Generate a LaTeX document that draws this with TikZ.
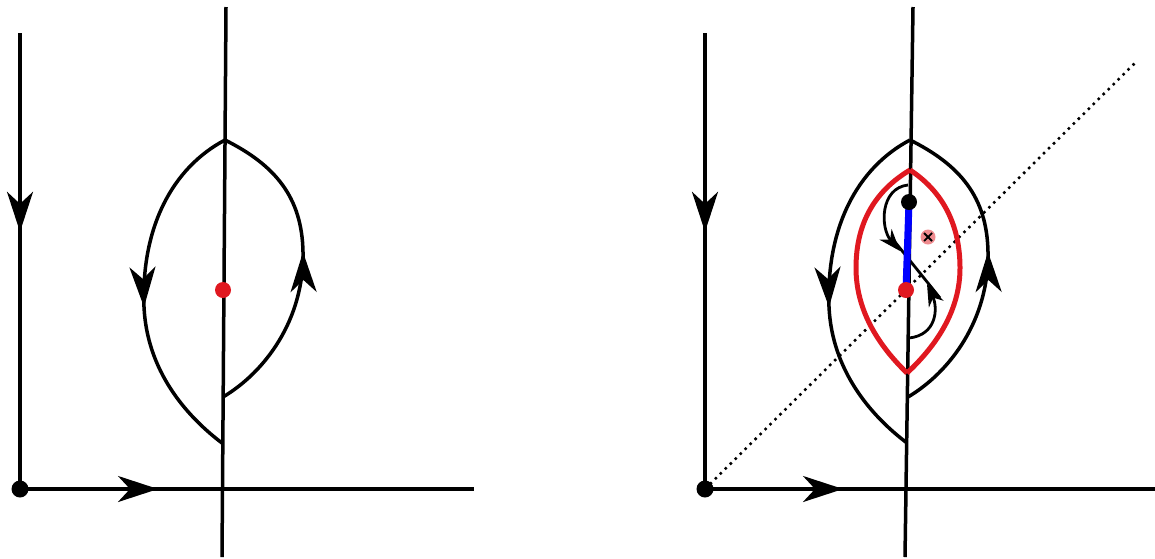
\documentclass[tikz,border=0pt]{standalone}
\usetikzlibrary{arrows.meta,calc,decorations.markings}
\definecolor{myred}{RGB}{224,24,32}
\tikzset{
  ln/.style={line width=3.5pt,black},
  bigtip/.tip={Stealth[length=40pt,width=26pt,inset=12pt]},
  arrowat/.style={postaction={decorate},decoration={markings,mark=at position #1 with {\arrow{bigtip}}}},
  smallarr/.style={line width=2.8pt,black,-{Stealth[length=22pt,width=16pt,inset=7pt]}},
  redlens/.style={line width=5pt,myred},
  dotted line/.style={line width=2.5pt,dash pattern=on 2.5pt off 4.5pt},
}
\begin{document}
\begin{tikzpicture}[x=1pt,y=-1pt]
\useasboundingbox (0,0) rectangle (1155,558);
% ---------- common parts ----------
\foreach \dx in {0,685}{
\begin{scope}[xshift=\dx pt]
  \coordinate (o) at (20,489);
  \coordinate (vtop) at (20,33);
  \coordinate (hend) at (474,489);
  \draw[ln,arrowat=0.436] (vtop) -- (o);
  \draw[ln,arrowat=0.304] (o) -- (hend);
  % lens
  \coordinate (top) at (225,140);
  \coordinate (la) at (144,307);
  \coordinate (lb) at (222,443);
  \coordinate (ra) at (303,252);
  \coordinate (rb) at (223,397);
  \draw[ln,arrowat=1] (top) .. controls (172,168) and (141,228) .. (la);
  \draw[ln] (la) .. controls (147,370) and (185,415) .. (lb);
  \draw[ln,arrowat=1] (rb) .. controls (265,372) and (304,320) .. (ra);
  \draw[ln] (ra) .. controls (302,197) and (275,165) .. (top);
\end{scope}
}
% tilted lines
\coordinate (t1a) at (226,7); \coordinate (t1b) at (222,557);
\draw[ln] (t1a) -- (t1b);
\coordinate (t2a) at (913,7); \coordinate (t2b) at (905,557);
% dotted diagonal
\coordinate (dA) at (705,489); \coordinate (dB) at (1135,63);
\draw[dotted line] (dA) -- (dB);
\draw[ln] (t2a) -- (t2b);
% left red dot
\fill[myred] (223,290) circle (8pt);
% right diagram: red lens
\coordinate (rt) at (910,170); \coordinate (rbm) at (907,373);
\draw[redlens] (rt) .. controls (868,195) and (856,232) .. (856,268) .. controls (856,310) and (878,345) .. (rbm);
\draw[redlens] (rt) .. controls (948,195) and (960,232) .. (960,268) .. controls (960,310) and (937,345) .. (rbm);
% small arrows
\coordinate (s1) at (908,185);
\coordinate (s1t) at (900,251);
\draw[smallarr] (s1) .. controls (880,188) and (880,228) .. (s1t);
\coordinate (dg1) at (895,242); \coordinate (dg2) at (940,298);
\draw[line width=2.8pt] (dg1) -- (dg2);
\coordinate (s2) at (909,338);
\coordinate (s2t) at (927,284);
\draw[smallarr] (s2) .. controls (937,335) and (938,308) .. (s2t);
% blue segment
\coordinate (bd) at (909,202); \coordinate (rd) at (906,290);
\draw[line width=7pt,blue] (bd) -- (rd);
\fill[black] (bd) circle (8pt);
\fill[myred] (rd) circle (8pt);
% pink marker
\coordinate (pm) at (928,237);
\fill[myred,opacity=0.5] (pm) circle (7.5pt);
\draw[line width=1.8pt] ($(pm)+(-4,-4)$) -- ($(pm)+(4,4)$);
\draw[line width=1.8pt] ($(pm)+(-4,4)$) -- ($(pm)+(4,-4)$);
% origin dots
\fill (20,489) circle (8.5pt);
\fill (705,489) circle (8.5pt);
\end{tikzpicture}
\end{document}
